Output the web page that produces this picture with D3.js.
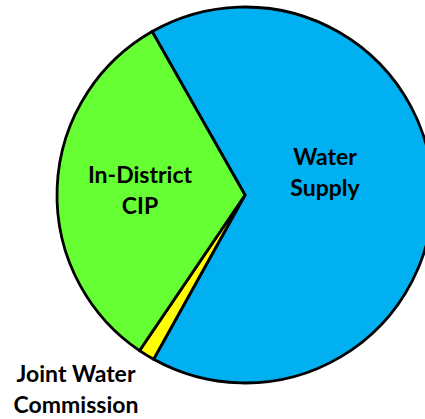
<!DOCTYPE html>
<html>
<head>
<meta charset="utf-8">
<script src="https://cdn.jsdelivr.net/npm/d3@7"></script>
<style>
  html, body { margin: 0; padding: 0; background: #fff; }
  svg { display: block; }
  text { font-family: Lato, "Open Sans", sans-serif; font-weight: 700; fill: #000; }
</style>
</head>
<body>
<svg id="chart" width="425" height="419"></svg>
<script>
const categories = ["Water Supply", "Joint Water Commission", "In-District CIP"];
const shares = [66.3, 1.4, 32.3];
const colors = ["#00B0F0", "#FFFF00", "#66FF33"];

// label lines and where they sit (offset from centre, px)
const labelLines = [["Water", "Supply"], ["Joint Water", "Commission"], ["In-District", "CIP"]];
const labelPos = [[80, -30], [-169, 187], [-105, -12]];

const width = 425, height = 419;
const cx = 245, cy = 195, radius = 188;

const svg = d3.select("#chart");
const g = svg.append("g").attr("transform", `translate(${cx},${cy})`);

const startDeg = -29.6;
const pie = d3.pie()
  .sort(null)
  .startAngle(startDeg * Math.PI / 180)
  .endAngle((startDeg + 360) * Math.PI / 180);

const arcs = pie(shares);
const arc = d3.arc().innerRadius(0).outerRadius(radius);

g.selectAll("path")
  .data(arcs)
  .join("path")
  .attr("d", arc)
  .attr("fill", (d, i) => colors[i])
  .attr("stroke", "#000")
  .attr("stroke-width", 2.8)
  .attr("stroke-linejoin", "miter");

const labels = g.selectAll("text.lbl")
  .data(categories)
  .join("text")
  .attr("class", "lbl")
  .attr("text-anchor", "middle")
  .attr("font-size", 23)
  .attr("x", (d, i) => labelPos[i][0])
  .attr("y", (d, i) => labelPos[i][1]);

labels.selectAll("tspan")
  .data((d, i) => labelLines[i].map((t, j) => ({ t, j, x: labelPos[i][0] })))
  .join("tspan")
  .attr("x", (d) => d.x)
  .attr("dy", (d) => (d.j === 0 ? 0 : 31))
  .text((d) => d.t);
</script>
</body>
</html>
